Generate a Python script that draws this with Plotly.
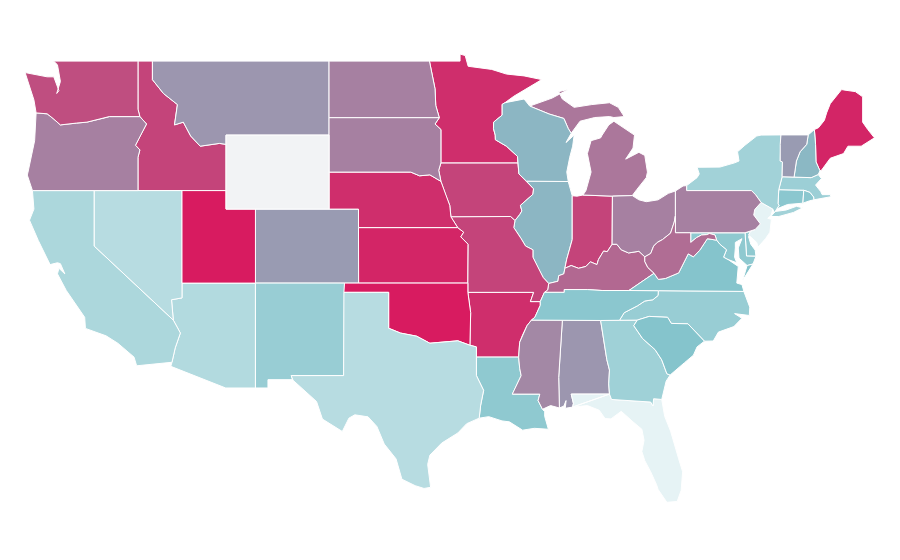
import plotly.graph_objects as go
from plotly.colors import sample_colorscale

# the geo base map needs a topojson download, so the states are drawn as filled lon/lat outlines
states = ["AL","AR","AZ","CA","CO","CT","DE","FL","GA","IA","ID","IL","IN","KS","KY","LA","MA","MD","ME","MI","MN","MO","MS","MT","NC","ND","NE","NH","NJ","NM","NV","NY","OH","OK","OR","PA","RI","SC","SD","TN","TX","UT","VA","VT","WA","WI","WV","WY"]
values = [49,92,16,18,47,28,27,0,22,83,83,36,83,96,68,27,23,27,96,62,92,83,55,49,24,58,92,35,0,24,14.5,21,58,100,58,58,28,30,58,28,14.5,100,30,47,79,36,66,None]

colorscale = [[0, "#e6f3f5"], [0.3, "#85c4cc"], [1, "#d81b60"]]
no_data_color = "#f2f3f5"

# shared borders, lon/lat
mn_wi = [(-92.1,46.75),(-92.29,46.66),(-92.29,46.08),(-92.87,45.7),(-92.88,45.35),(-92.76,45.0),(-92.75,44.75),(-92.0,44.4),(-91.25,43.85),(-91.22,43.5)]
ia_wi = [(-91.22,43.5),(-91.15,42.9),(-90.64,42.51)]
ia_il = [(-90.64,42.51),(-90.16,42.1),(-90.2,41.8),(-91.05,41.2),(-90.95,40.9),(-91.1,40.7),(-91.42,40.38)]
mo_il = [(-91.42,40.38),(-91.5,40.0),(-91.0,39.4),(-90.7,39.0),(-90.2,38.8),(-90.2,38.4),(-89.9,37.9),(-89.5,37.3),(-89.13,36.98)]
mo_ky_tn = [(-89.13,36.98),(-89.2,36.63),(-89.42,36.5),(-89.7,36.0)]
tn_ar = [(-89.7,36.0),(-89.7,35.8),(-90.07,35.15),(-90.3,35.0)]
ar_ms = [(-90.3,35.0),(-90.6,34.7),(-90.9,34.2),(-91.1,33.8),(-91.17,33.0)]
la_ms = [(-91.17,33.0),(-91.1,32.4),(-91.0,32.0),(-91.6,31.0),(-89.73,31.0),(-89.85,30.65),(-89.55,30.18)]
il_ky = [(-89.13,36.98),(-88.5,37.1),(-88.45,37.4),(-88.1,37.5),(-88.03,37.8)]
in_ky = [(-88.03,37.8),(-87.6,37.95),(-87.1,37.8),(-86.6,37.9),(-86.3,38.15),(-85.85,38.0),(-85.75,38.27),(-85.4,38.73),(-85.15,38.7),(-84.82,39.1)]
oh_ky = [(-84.82,39.1),(-84.5,39.1),(-84.2,38.8),(-83.7,38.63),(-83.0,38.72),(-82.6,38.42)]
wv_oh = [(-82.6,38.42),(-82.2,38.6),(-82.0,39.0),(-81.75,39.2),(-81.4,39.35),(-80.85,39.7),(-80.6,40.3),(-80.52,40.64)]
wv_md = [(-79.48,39.72),(-79.48,39.2),(-79.1,39.45),(-78.75,39.6),(-78.4,39.62),(-78.2,39.68),(-77.83,39.6),(-77.72,39.32)]
wv_va = [(-77.72,39.32),(-78.35,39.4),(-78.87,38.77),(-79.3,38.42),(-79.65,38.58),(-80.3,37.55),(-81.2,37.25),(-81.68,37.2),(-81.97,37.53)]
wv_ky = [(-81.97,37.53),(-82.4,37.85),(-82.6,38.17),(-82.6,38.42)]
ky_va = [(-81.97,37.53),(-83.68,36.6)]
ky_tn = [(-83.68,36.6),(-85.5,36.6),(-86.5,36.65),(-88.07,36.65),(-88.07,36.5),(-89.42,36.5)]
tn_nc = [(-81.68,36.59),(-81.7,36.33),(-82.05,36.1),(-82.6,36.03),(-83.1,35.77),(-84.0,35.4),(-84.32,34.99)]
nc_sc = [(-83.11,35.0),(-82.3,35.2),(-81.05,35.15),(-80.8,34.82),(-79.67,34.8),(-78.55,33.86)]
nc_coast = [(-78.55,33.86),(-77.95,33.87),(-77.6,34.35),(-76.55,34.65),(-76.0,35.1),(-76.5,35.35),(-75.5,35.25),(-75.47,35.7),(-75.87,36.55)]
ga_sc = [(-83.11,35.0),(-83.35,34.7),(-82.75,34.0),(-81.9,33.4),(-81.45,32.85),(-81.1,32.1),(-80.88,32.03)]
ga_al = [(-85.6,34.98),(-85.18,32.87),(-85.0,32.3),(-85.05,31.55),(-85.0,31.0)]
al_fl = [(-85.0,31.0),(-87.6,31.0),(-87.45,30.5),(-87.5,30.3)]
ga_fl = [(-85.0,31.0),(-84.86,30.71),(-82.2,30.57),(-82.05,30.36),(-82.0,30.75),(-81.45,30.71)]
al_ms = [(-88.2,35.0),(-88.45,31.9),(-88.4,30.25)]
la_tx = [(-93.85,29.7),(-93.75,30.4),(-93.55,31.2),(-94.04,32.0),(-94.04,33.0)]
red_river = [(-100.0,34.56),(-99.2,34.3),(-98.1,34.13),(-97.2,33.75),(-96.5,33.8),(-95.3,33.88),(-94.48,33.64)]
mo_ne_ks = [(-95.77,40.58),(-95.31,40.0)]
ks_mo = [(-95.31,40.0),(-94.9,39.75),(-95.1,39.5),(-94.6,39.1),(-94.62,37.0)]
ia_ne = [(-95.77,40.58),(-95.85,41.2),(-96.1,41.7),(-96.45,42.5)]
ne_sd = [(-96.45,42.5),(-97.2,42.85),(-97.9,42.8),(-98.5,43.0),(-104.05,43.0)]
ia_sd = [(-96.45,42.5),(-96.6,43.1),(-96.45,43.5)]
mn_sd = [(-96.45,43.5),(-96.45,45.3),(-96.85,45.6),(-96.56,45.94)]
mn_nd = [(-96.56,45.94),(-96.8,46.6),(-96.85,47.5),(-97.23,49.0)]
mt_id = [(-116.05,49.0),(-116.05,48.0),(-115.3,47.25),(-114.35,46.65),(-114.55,45.55),(-113.95,45.7),(-113.45,44.95),(-112.8,44.4),(-111.5,44.55),(-111.05,44.5)]
or_id = [(-117.03,42.0),(-117.03,43.8),(-116.9,44.2),(-117.2,44.45),(-116.85,45.0),(-116.45,45.6),(-116.9,46.0)]
wa_or = [(-116.9,46.0),(-118.98,46.0),(-119.3,45.93),(-120.5,45.7),(-121.2,45.65),(-122.3,45.55),(-122.8,45.9),(-123.2,46.15),(-123.95,46.2)]
ca_az = [(-114.63,35.0),(-114.15,34.3),(-114.5,33.5),(-114.72,32.72)]
pa_nj = [(-74.7,41.36),(-75.13,40.98),(-75.2,40.68),(-74.75,40.2),(-75.1,39.9),(-75.42,39.8)]
ny_pa = [(-79.76,42.27),(-79.76,42.0),(-75.35,42.0),(-75.07,41.77),(-74.7,41.36)]
ny_vt = [(-73.35,45.01),(-73.4,44.5),(-73.4,43.6),(-73.25,43.55),(-73.27,42.75)]
ny_ct = [(-73.5,42.05),(-73.55,41.3),(-73.48,41.2),(-73.66,41.0)]
vt_nh = [(-71.5,45.01),(-71.6,44.5),(-72.05,44.1),(-72.3,43.6),(-72.46,42.73)]
nh_me = [(-71.08,45.3),(-71.0,44.5),(-70.97,43.55),(-70.7,43.07)]
ma_ri = [(-71.8,42.02),(-71.38,41.9),(-71.13,41.65),(-71.12,41.5)]
wi_mi = [(-90.42,46.57),(-89.1,46.14),(-88.1,45.9),(-87.8,45.35),(-87.6,45.1)]
potomac = [(-76.9,38.25),(-77.03,38.3),(-77.25,38.4),(-77.05,38.8),(-77.5,39.1),(-77.72,39.32)]


def rev(seg):
    return seg[::-1]


def poly(*segs):
    pts = []
    for s in segs:
        pts.extend(s)
    return pts


shapes = {
    "AL": [poly([(-88.2,35.0)], ga_al, al_fl, [(-88.0,30.23),(-87.95,30.65),(-88.1,30.35)], rev(al_ms))],
    "AR": [poly([(-94.62,36.5),(-90.15,36.5),(-90.37,36.0)], tn_ar, ar_ms, [(-94.04,33.0),(-94.04,33.55),(-94.48,33.64),(-94.43,35.4)])],
    "AZ": [poly([(-114.04,37.0),(-109.05,37.0),(-109.05,31.33),(-111.07,31.33),(-114.8,32.5)], rev(ca_az), [(-114.75,36.1),(-114.04,36.2)])],
    "CA": [poly([(-124.2,42.0),(-120.0,42.0),(-120.0,39.0)], ca_az, [(-117.12,32.53),(-117.3,33.0),(-118.4,33.75),(-119.2,34.15),(-120.6,34.55),(-120.65,35.15),(-121.9,36.6),(-122.5,37.5),(-122.4,37.8),(-122.0,37.5),(-122.3,38.05),(-122.5,38.1),(-123.0,38.0),(-123.8,39.3),(-124.4,40.4),(-124.1,41.0)])],
    "CO": [[(-109.05,41.0),(-102.05,41.0),(-102.05,40.0),(-102.04,37.0),(-109.05,37.0)]],
    "CT": [poly([(-73.5,42.05),(-71.8,42.02),(-71.86,41.32),(-72.9,41.25)], rev(ny_ct)[:-1])],
    "DE": [[(-75.79,39.72),(-75.69,38.46),(-75.05,38.45),(-75.1,38.78),(-75.4,39.1),(-75.55,39.5),(-75.42,39.8)]],
    "FL": [poly([(-87.5,30.3),(-86.5,30.38),(-85.7,30.13),(-85.3,29.68),(-84.9,29.66),(-84.2,30.07),(-83.4,29.5),(-82.8,29.1),(-82.65,28.5),(-82.8,27.9),(-82.6,27.4),(-82.2,26.8),(-81.8,26.1),(-81.7,25.85),(-81.1,25.15),(-80.4,25.2),(-80.13,25.8),(-80.03,26.8),(-80.3,27.5),(-80.6,28.4),(-80.85,29.0),(-81.25,29.8),(-81.4,30.4)], rev(ga_fl), rev(al_fl))],
    "GA": [poly([(-85.6,34.98),(-84.32,34.99),(-83.11,35.0)], ga_sc, [(-81.15,31.7),(-81.3,31.2)], rev(ga_fl), rev(ga_al))],
    "IA": [poly([(-96.45,43.5)], ia_wi, ia_il, [(-91.72,40.6)], ia_ne, ia_sd)],
    "ID": [poly([(-117.03,49.0)], mt_id, [(-111.05,42.0)], or_id, [(-117.03,46.4)])],
    "IL": [poly([(-87.53,41.72),(-87.8,42.49)], ia_il, mo_il, il_ky, [(-87.9,38.3),(-87.53,39.35)])],
    "IN": [poly([(-87.53,41.72),(-87.2,41.7),(-86.8,41.76),(-84.8,41.7)], rev(in_ky), [(-87.9,38.3),(-87.53,39.35)])],
    "KS": [poly([(-102.05,40.0)], ks_mo, [(-102.04,37.0)])],
    "KY": [poly(rev(wv_ky), ky_va, ky_tn[1:], [(-89.2,36.63)], il_ky, in_ky, oh_ky)],
    "LA": [poly(la_ms, [(-89.4,30.05),(-89.4,29.8),(-89.15,29.1),(-90.1,29.15),(-90.9,29.05),(-91.8,29.5),(-92.3,29.55),(-93.2,29.78)], la_tx)],
    "MA": [poly([(-73.5,42.05),(-73.27,42.75),(-72.46,42.73),(-71.3,42.7),(-70.82,42.87),(-70.6,42.65),(-71.0,42.3),(-70.65,41.95),(-70.55,41.78),(-70.0,41.78),(-69.95,41.67),(-70.65,41.55)], rev(ma_ri))],
    "MD": [poly([(-79.48,39.72),(-75.79,39.72),(-75.69,38.46),(-75.05,38.45),(-75.25,38.03),(-75.65,37.95),(-76.2,38.35),(-76.25,38.9),(-76.0,39.4),(-76.45,39.2),(-76.45,38.9),(-76.5,38.4),(-76.35,38.1)], potomac, rev(wv_md))],
    "ME": [poly(nh_me[:1], [(-70.8,45.4),(-70.4,45.8),(-70.25,46.2),(-70.0,46.7),(-69.23,47.46),(-69.0,47.43),(-68.3,47.35),(-67.8,47.07),(-67.8,45.7),(-67.45,45.3),(-67.0,44.85),(-67.9,44.4),(-68.8,44.4),(-69.1,44.0),(-70.0,43.75),(-70.6,43.1)], rev(nh_me))],
    "MI": [
        [(-84.8,41.7),(-83.45,41.73),(-83.15,42.05),(-82.5,42.7),(-82.42,43.0),(-82.6,43.9),(-83.0,44.07),(-83.9,43.7),(-83.4,44.3),(-83.3,45.0),(-84.7,45.75),(-85.05,45.55),(-85.5,45.0),(-85.6,44.85),(-86.25,44.7),(-86.5,44.0),(-86.25,43.0),(-86.6,42.0),(-86.8,41.76)],
        poly(wi_mi, [(-87.0,45.75),(-86.0,45.95),(-85.0,46.0),(-84.7,45.95),(-84.0,46.0),(-84.4,46.5),(-85.0,46.75),(-86.2,46.65),(-87.4,46.5),(-88.2,46.95),(-88.45,47.35),(-87.8,47.47),(-88.9,47.0)]),
    ],
    "MN": [poly([(-97.23,49.0),(-95.15,49.0),(-95.15,49.38),(-94.8,49.3),(-94.6,48.72),(-93.0,48.55),(-92.0,48.3),(-90.8,48.2),(-89.6,48.0),(-91.5,47.1)], mn_wi, [(-96.45,43.5)], mn_sd, mn_nd)],
    "MO": [poly([(-91.72,40.6)], mo_ne_ks, ks_mo, [(-94.62,36.5),(-90.15,36.5),(-90.37,36.0),(-89.7,36.0),(-89.42,36.5),(-89.2,36.63)], rev(mo_il))],
    "MS": [poly([(-90.3,35.0)], al_ms, [(-89.0,30.38)], rev(la_ms), rev(ar_ms))],
    "MT": [poly(mt_id, [(-111.05,45.0),(-104.05,45.0),(-104.05,49.0)])],
    "NC": [poly(rev(tn_nc), rev(nc_coast), rev(nc_sc))],
    "ND": [poly([(-104.05,49.0)], rev(mn_nd), [(-104.05,45.94)])],
    "NE": [poly([(-104.05,43.0)], rev(ne_sd)[1:], rev(ia_ne)[1:], mo_ne_ks, [(-102.05,40.0),(-102.05,41.0),(-104.05,41.0)])],
    "NH": [poly(vt_nh, [(-71.3,42.7),(-70.82,42.87)], rev(nh_me))],
    "NJ": [poly(pa_nj, [(-75.55,39.6),(-75.0,39.2),(-74.9,38.95),(-74.4,39.4),(-74.1,39.75),(-74.0,40.45),(-74.25,40.5),(-74.03,40.65),(-73.9,41.0)])],
    "NM": [[(-109.05,37.0),(-103.0,37.0),(-103.06,32.0),(-106.62,32.0),(-106.53,31.78),(-108.2,31.78),(-108.2,31.33),(-109.05,31.33)]],
    "NV": [[(-120.0,42.0),(-114.04,42.0),(-114.04,36.2),(-114.75,36.1),(-114.63,35.0),(-120.0,39.0)]],
    "NY": [
        poly(ny_pa, [(-73.9,41.0),(-73.8,40.8),(-73.66,41.0)], rev(ny_ct), [(-73.27,42.75)], rev(ny_vt), [(-74.7,45.0),(-75.0,44.95),(-75.8,44.45),(-76.3,44.1),(-76.2,43.6),(-76.5,43.5),(-77.5,43.27),(-79.05,43.26),(-78.9,42.9),(-79.05,42.7)]),
        [(-74.03,40.6),(-73.75,40.87),(-73.0,40.95),(-72.3,41.15),(-71.87,41.07),(-72.5,40.82),(-73.5,40.6)],
    ],
    "OH": [poly([(-84.82,39.1),(-84.8,41.7),(-83.45,41.73),(-83.0,41.5),(-82.5,41.4),(-81.7,41.5),(-81.0,41.85),(-80.52,41.98)], rev(wv_oh), rev(oh_ky))],
    "OK": [poly([(-103.0,37.0),(-94.62,37.0),(-94.62,36.5),(-94.43,35.4)], rev(red_river), [(-100.0,36.5),(-103.04,36.5)])],
    "OR": [poly([(-124.2,42.0)], or_id, wa_or, [(-124.05,44.7),(-124.5,43.0),(-124.55,42.84)])],
    "PA": [poly([(-80.52,41.98),(-80.0,42.25)], ny_pa, pa_nj, [(-75.79,39.72),(-79.48,39.72),(-80.52,39.72),(-80.52,40.64)])],
    "RI": [poly(ma_ri, [(-71.4,41.45),(-71.86,41.32)])],
    "SC": [poly(nc_sc, [(-79.05,33.55),(-79.3,33.1),(-79.9,32.7),(-80.45,32.3)], rev(ga_sc))],
    "SD": [poly([(-104.05,45.94)], rev(mn_sd), rev(ia_sd), ne_sd)],
    "TN": [poly([(-83.68,36.6)], tn_nc, [(-85.6,34.98),(-88.2,35.0),(-90.3,35.0)], rev(tn_ar), [(-89.42,36.5),(-88.07,36.5),(-88.07,36.65),(-86.5,36.65),(-85.5,36.6)])],
    "TX": [poly([(-103.06,32.0),(-103.04,36.5),(-100.0,36.5)], red_river, [(-94.04,33.55)], rev(la_tx), [(-94.7,29.4),(-95.3,28.9),(-96.4,28.35),(-97.2,27.7),(-97.35,27.2),(-97.15,25.96),(-97.6,25.9),(-98.2,26.05),(-99.1,26.4),(-99.5,27.5),(-100.3,28.3),(-100.8,29.25),(-101.4,29.77),(-102.3,29.88),(-102.7,29.7),(-103.15,28.98),(-104.5,29.65),(-104.9,30.6),(-106.5,31.75),(-106.62,32.0)])],
    "UT": [[(-114.04,42.0),(-111.05,42.0),(-111.05,41.0),(-109.05,41.0),(-109.05,37.0),(-114.04,37.0)]],
    "VA": [
        poly(rev(ky_va), rev(wv_va)[1:], rev(potomac), [(-76.25,37.9),(-76.3,37.6),(-76.35,37.0),(-76.0,36.92),(-75.87,36.55),(-81.68,36.59)]),
        [(-75.95,37.15),(-75.6,37.6),(-75.25,38.03),(-75.65,37.95)],
    ],
    "VT": [poly(ny_vt, rev(vt_nh))],
    "WA": [poly([(-122.76,49.0),(-117.03,49.0),(-117.03,46.4)], wa_or, [(-124.1,46.9),(-124.7,48.38),(-123.2,48.15),(-122.75,48.15),(-122.4,47.4),(-122.55,47.25),(-122.3,47.9),(-122.5,48.8)])],
    "WI": [poly([(-92.1,46.75),(-91.2,46.9),(-90.8,46.95)], wi_mi, [(-87.95,44.6),(-87.4,45.0),(-87.5,44.4),(-87.7,43.8),(-87.9,43.0),(-87.8,42.49)], rev(ia_wi), rev(mn_wi))],
    "WV": [poly(wv_oh, [(-80.52,39.72)], wv_md, wv_va, wv_ky)],
    "WY": [[(-111.05,45.0),(-104.05,45.0),(-104.05,41.0),(-111.05,41.0)]],
}

fig = go.Figure()
for state, value in zip(states, values):
    if value is None:
        color = no_data_color
    else:
        color = sample_colorscale(colorscale, value / 100)[0]
    x = []
    y = []
    for part in shapes[state]:
        x += [p[0] for p in part] + [part[0][0], None]
        y += [p[1] for p in part] + [part[0][1], None]
    fig.add_trace(go.Scatter(
        x=x, y=y, name=state, mode="lines", fill="toself",
        fillcolor=color, line=dict(color="white", width=1),
        hoverinfo="name", showlegend=False,
    ))

fig.update_layout(
    width=900,
    height=560,
    margin=dict(l=0, r=0, t=0, b=0),
    paper_bgcolor="white",
    plot_bgcolor="white",
    xaxis=dict(range=[-125.86, -64.72], visible=False),
    yaxis=dict(range=[21.6, 51.87], visible=False),
)

fig.write_html("out.html")
